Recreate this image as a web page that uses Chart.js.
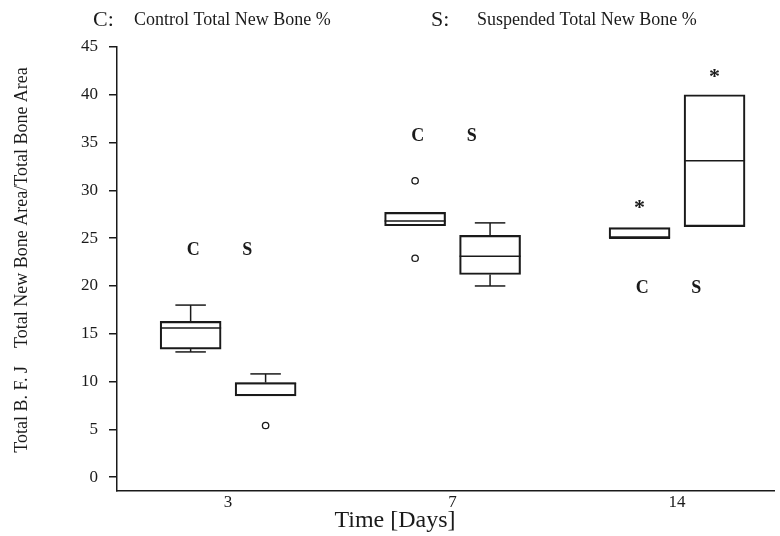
<!DOCTYPE html>
<html><head><meta charset="utf-8">
<script src="https://cdn.jsdelivr.net/npm/chart.js@4/dist/chart.umd.min.js"></script>
<style>html,body{margin:0;padding:0;background:#fff}</style>
</head><body>
<canvas id="c" width="780" height="536"></canvas>
<script>
// ---------- data ----------
const days = ["3", "7", "14"];
const yTicks = [0, 5, 10, 15, 20, 25, 30, 35, 40, 45];

const controlLow      = [13.1, 26.3, 25.0];
const controlQ1       = [13.4, 26.3, 25.0];
const controlMedian   = [15.6, 26.8, 25.0];
const controlQ3       = [16.3, 27.7, 26.1];
const controlHigh     = [18.0, 27.7, 26.1];
const controlOutliers = [[], [31.0, 22.9], []];
const controlExtremes = [[], [], [28.6]];

const suspendedLow      = [8.5, 20.0, 26.2];
const suspendedQ1       = [8.5, 21.2, 26.2];
const suspendedMedian   = [9.8, 23.1, 33.1];
const suspendedQ3       = [9.9, 25.3, 40.0];
const suspendedHigh     = [10.8, 26.6, 40.0];
const suspendedOutliers = [[5.4], [], []];
const suspendedExtremes = [[], [], [42.3]];

const groupLetterY = [23.75, 35.7, 19.8];
const seriesLetters = ["C", "S"];
const seriesNames = ["Control Total New Bone %", "Suspended Total New Bone %"];
const yTitle = "    Total B. F. J    Total New Bone Area/Total Bone Area";
const xTitle = "Time [Days]";

// ---------- layout ----------
const BOX_OFF = 0.167;
const LETTER_OFF = [-0.155, 0.085];
const INK = '#1a1a1a';
const SERIF = "'Liberation Serif', 'DejaVu Serif', serif";

const series = [
  {low: controlLow, q1: controlQ1, med: controlMedian, q3: controlQ3, high: controlHigh, out: controlOutliers, ext: controlExtremes, off: -BOX_OFF},
  {low: suspendedLow, q1: suspendedQ1, med: suspendedMedian, q3: suspendedQ3, high: suspendedHigh, out: suspendedOutliers, ext: suspendedExtremes, off: BOX_OFF}
];

const boxDatasets = series.map((s, k) => ({
  type: 'bar',
  label: seriesNames[k],
  data: days.map((d, i) => ({x: i + s.off, y: [s.q1[i], s.q3[i]]})),
  backgroundColor: 'rgba(255,255,255,0)',
  borderColor: INK,
  borderWidth: 1.5,
  borderSkipped: false,
  barThickness: 61,
  grouped: false
}));
const outlierDatasets = series.map((s, k) => ({
  type: 'scatter',
  label: seriesNames[k] + ' outliers',
  data: s.out.flatMap((arr, i) => arr.map(v => ({x: i + s.off, y: v}))),
  pointStyle: 'circle',
  pointRadius: 3.2,
  pointBorderWidth: 1.3,
  pointBorderColor: INK,
  pointBackgroundColor: '#fff'
}));

const boxDetails = {
  id: 'boxDetails',
  afterDatasetsDraw(chart) {
    const {ctx} = chart;
    const ys = chart.scales.y, xs = chart.scales.x;
    const seg = (x1, y1, x2, y2) => { ctx.beginPath(); ctx.moveTo(x1, y1); ctx.lineTo(x2, y2); ctx.stroke(); };
    ctx.save();
    ctx.strokeStyle = INK; ctx.lineWidth = 1.5;
    series.forEach((s, k) => {
      chart.getDatasetMeta(k).data.forEach((bar, i) => {
        const cx = bar.x, half = bar.width / 2, cap = bar.width / 4;
        const ym = ys.getPixelForValue(s.med[i]);
        seg(cx - half, ym, cx + half, ym);
        if (s.high[i] > s.q3[i]) {
          const y3 = ys.getPixelForValue(s.q3[i]), yh = ys.getPixelForValue(s.high[i]);
          seg(cx, y3, cx, yh); seg(cx - cap, yh, cx + cap, yh);
        }
        if (s.low[i] < s.q1[i]) {
          const y1 = ys.getPixelForValue(s.q1[i]), yl = ys.getPixelForValue(s.low[i]);
          seg(cx, y1, cx, yl); seg(cx - cap, yl, cx + cap, yl);
        }
        ctx.fillStyle = INK;
        ctx.font = 'bold 22px ' + SERIF;
        ctx.textAlign = 'center'; ctx.textBaseline = 'middle';
        s.ext[i].forEach(v => ctx.fillText('*', cx, ys.getPixelForValue(v) + 5));
      });
      ctx.fillStyle = INK;
      ctx.font = 'bold 18px ' + SERIF;
      ctx.textAlign = 'center'; ctx.textBaseline = 'middle';
      days.forEach((d, i) => ctx.fillText(seriesLetters[k], xs.getPixelForValue(i + LETTER_OFF[k]), ys.getPixelForValue(groupLetterY[i])));
    });
    ctx.textAlign = 'left'; ctx.textBaseline = 'alphabetic';
    const keyX = [93, 431], nameX = [134, 477];
    seriesLetters.forEach((L, k) => {
      ctx.font = '22px ' + SERIF;
      ctx.fillText(L + ':', keyX[k], 26);
      ctx.font = '18px ' + SERIF;
      ctx.fillText(seriesNames[k], nameX[k], 25);
    });
    ctx.font = '24px ' + SERIF;
    ctx.textAlign = 'center'; ctx.textBaseline = 'middle';
    ctx.fillText(xTitle, 395, 521);
    ctx.restore();
  }
};

new Chart(document.getElementById('c'), {
  type: 'bar',
  data: {datasets: [...boxDatasets, ...outlierDatasets]},
  options: {
    responsive: false,
    devicePixelRatio: 1,
    animation: false,
    layout: {padding: {top: 47, right: -5, left: 0, bottom: 0}},
    plugins: {legend: {display: false}, tooltip: {enabled: false}},
    scales: {
      x: {
        type: 'linear',
        offset: false,
        min: -0.495, max: 2.435,
        afterBuildTicks: sc => { sc.ticks = days.map((d, i) => ({value: i})); },
        afterFit: sc => { sc.height = 45; sc.paddingLeft = 0; sc.paddingRight = 0; },
        grid: {display: false, drawTicks: false},
        border: {display: true, color: INK, width: 1.5},
        ticks: {
          callback: (v, i) => days[i],
          font: {family: SERIF, size: 17}, color: INK, padding: 1, maxRotation: 0
        }
      },
      y: {
        type: 'linear',
        min: -1.45, max: 45,
        afterBuildTicks: sc => { sc.ticks = yTicks.map(v => ({value: v})); },
        afterFit: sc => { sc.width = 117; },
        grid: {drawOnChartArea: false, drawTicks: true, tickLength: 8, color: INK, lineWidth: 1.5},
        border: {display: true, color: INK, width: 1.5},
        ticks: {font: {family: SERIF, size: 17}, color: INK, padding: 11},
        title: {display: true, text: yTitle, font: {family: SERIF, size: 18}, color: INK, padding: {top: 11, bottom: 0}}
      }
    }
  },
  plugins: [boxDetails]
});
</script>
</body></html>
